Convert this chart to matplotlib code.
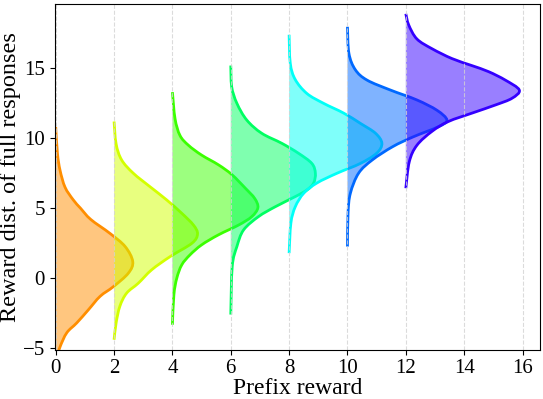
import numpy as np
import matplotlib
matplotlib.use("Agg")
import matplotlib.pyplot as plt
from matplotlib.path import Path
from matplotlib.patches import PathPatch

# prefix rewards (x position of each half-violin)
prefix_rewards = [0, 2, 4, 6, 8, 10, 12]

# density profiles: reward levels (y) and density width (x extent)
y_p0 = [-6.5, -5.5, -4.9, -3.9, -3.2, -2.26, -1.3, -0.6, 0.36, 1.19, 2.26, 3.2, 4.2, 5.0, 5.6, 6.5, 7.7, 8.9, 10.8]
w_p0 = [0.0, 0.08, 0.15, 0.38, 0.72, 1.12, 1.52, 1.98, 2.49, 2.64, 2.38, 1.86, 1.2, 0.85, 0.6, 0.32, 0.15, 0.06, 0.0]

y_p2 = [-4.4, -3.2, -2.0, -1.07, -0.36, 0.6, 1.54, 2.5, 3.16, 3.8, 4.64, 5.6, 6.54, 7.5, 8.45, 9.6, 11.2]
w_p2 = [0.0, 0.07, 0.2, 0.43, 0.83, 1.29, 1.92, 2.67, 2.86, 2.72, 2.32, 1.8, 1.23, 0.66, 0.26, 0.07, 0.0]

y_p4 = [-3.33, -1.2, 0.0, 0.95, 1.66, 2.38, 3.1, 3.8, 4.4, 5.04, 5.7, 6.43, 7.4, 8.1, 8.8, 9.5, 10.2, 11.4, 13.3]
w_p4 = [0.0, 0.05, 0.15, 0.32, 0.6, 1.0, 1.58, 2.27, 2.72, 2.93, 2.82, 2.5, 2.04, 1.58, 1.0, 0.55, 0.26, 0.09, 0.0]

y_p6 = [-2.6, 0.83, 2.26, 3.45, 4.4, 5.1, 5.83, 6.3, 6.8, 7.5, 8.2, 8.93, 9.64, 10.36, 11.3, 12.5, 13.7, 15.2]
w_p6 = [0.0, 0.05, 0.21, 0.44, 0.95, 1.52, 2.21, 2.61, 2.84, 2.9, 2.78, 2.32, 1.75, 1.06, 0.55, 0.21, 0.03, 0.0]

y_p8 = [1.79, 3.93, 5.1, 6.07, 6.8, 7.5, 8.2, 8.93, 9.64, 10.36, 11.07, 11.8, 12.5, 13.2, 14.2, 15.36, 17.4]
w_p8 = [0.0, 0.06, 0.21, 0.5, 0.95, 1.64, 2.44, 3.0, 3.18, 2.96, 2.44, 1.87, 1.18, 0.61, 0.21, 0.04, 0.0]

y_p10 = [2.26, 4.64, 6.07, 7.5, 8.45, 9.4, 10.1, 10.83, 11.3, 12.0, 12.74, 13.45, 14.16, 14.9, 16.07, 17.97]
w_p10 = [0.0, 0.02, 0.1, 0.38, 0.85, 1.55, 2.25, 3.12, 3.41, 3.07, 2.38, 1.47, 0.67, 0.27, 0.05, 0.0]

y_p12 = [6.43, 8.33, 9.5, 10.5, 11.2, 11.8, 12.38, 12.86, 13.45, 14.16, 14.76, 15.2, 15.7, 16.4, 17.1, 18.1, 18.9]
w_p12 = [0.0, 0.12, 0.38, 0.9, 1.46, 2.27, 3.07, 3.64, 3.89, 3.41, 2.84, 2.26, 1.58, 0.9, 0.38, 0.1, 0.0]

levels = [y_p0, y_p2, y_p4, y_p6, y_p8, y_p10, y_p12]
widths = [w_p0, w_p2, w_p4, w_p6, w_p8, w_p10, w_p12]


def smooth_path(pts, base):
    # Catmull-Rom through the read points, drawn as cubic bezier segments;
    # control points are kept right of the baseline so the curve never crosses it
    verts = [pts[0]]
    codes = [Path.MOVETO]
    n = len(pts)
    for i in range(n - 1):
        p0 = pts[max(i - 1, 0)]
        p1 = pts[i]
        p2 = pts[i + 1]
        p3 = pts[min(i + 2, n - 1)]
        c1 = p1 + (p2 - p0) / 6
        c2 = p2 - (p3 - p1) / 6
        c1[0] = max(c1[0], base)
        c2[0] = max(c2[0], base)
        verts += [c1, c2, p2]
        codes += [Path.CURVE4] * 3
    return verts, codes


plt.rcParams['font.family'] = ['Liberation Serif', 'DejaVu Serif']

fig, ax = plt.subplots(figsize=(5.43, 3.99), dpi=100)
fig.subplots_adjust(left=0.101, right=0.9945, top=0.99, bottom=0.124)

cmap = plt.get_cmap('gist_rainbow')
colors = cmap(np.linspace(0.135, 0.805, len(prefix_rewards)))

for p, y, w, c in zip(prefix_rewards, levels, widths, colors):
    pts = np.column_stack([p + np.array(w), np.array(y)])
    verts, codes = smooth_path(pts, p)
    fill_verts = verts + [(p, y[0])]
    fill_codes = codes + [Path.CLOSEPOLY]
    ax.add_patch(PathPatch(Path(fill_verts, fill_codes), facecolor=c,
                           alpha=0.5, edgecolor='none'))
    ax.add_patch(PathPatch(Path(verts, codes), facecolor='none',
                           edgecolor=c, lw=2))

ax.set_xlim(-0.03, 16.6)
ax.set_ylim(-5.1, 19.6)
ax.set_xticks(range(0, 17, 2))
ax.set_yticks([-5, 0, 5, 10, 15])
ax.grid(axis='x', linestyle='--', color='lightgray', alpha=0.8)
ax.tick_params(labelsize=15)
ax.set_xlabel('Prefix reward', fontsize=17, labelpad=0)
ax.set_ylabel('Reward dist. of full responses', fontsize=17.5, labelpad=1)

plt.savefig('out.png', dpi=100)
